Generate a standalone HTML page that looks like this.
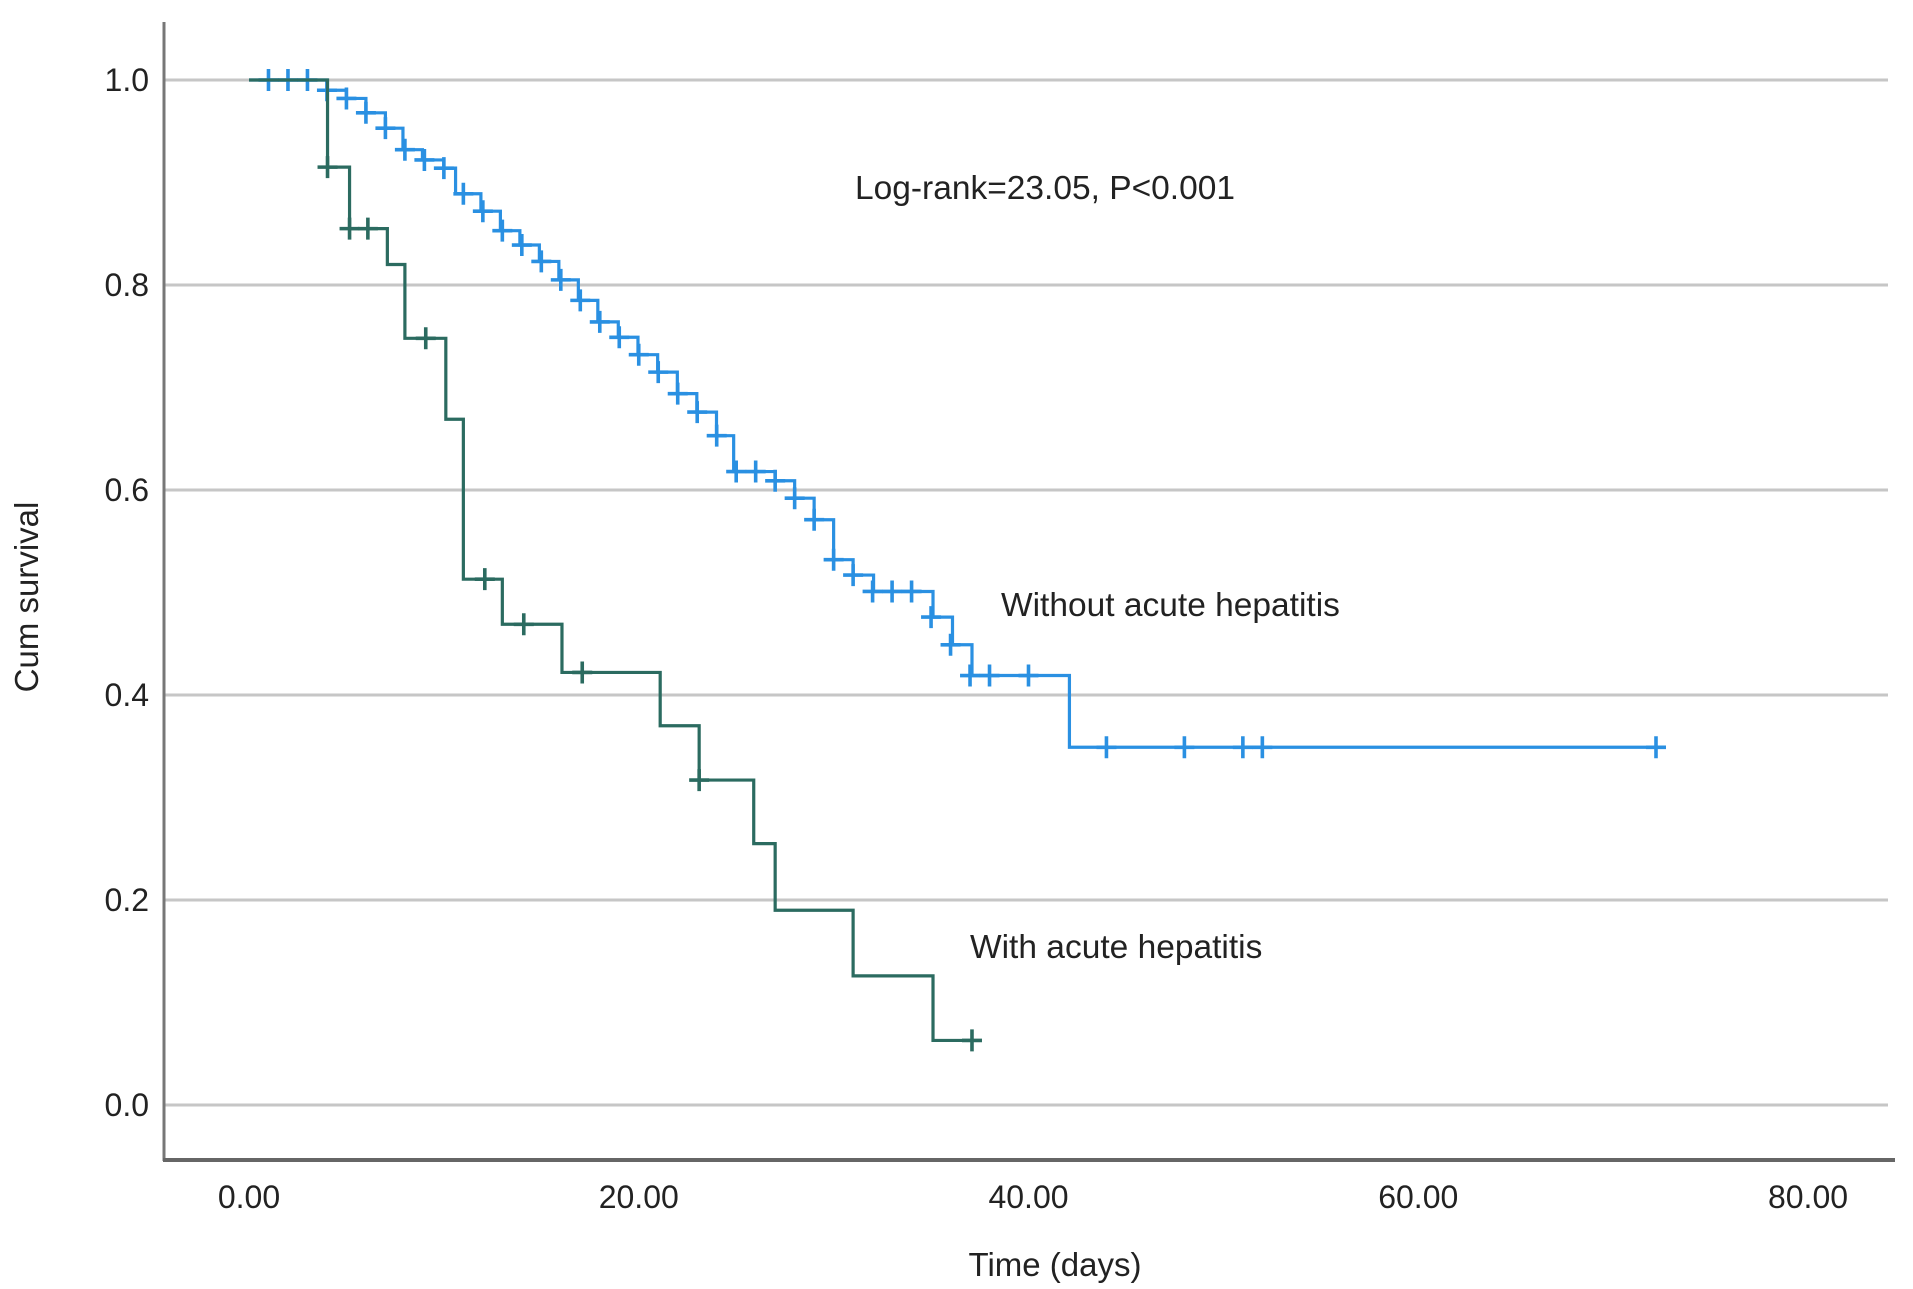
<!DOCTYPE html>
<html><head><meta charset="utf-8"><style>
html,body{margin:0;padding:0;background:#fff;}
svg{display:block;font-family:"Liberation Sans",sans-serif;}
</style></head><body>
<svg id="chart" width="1913" height="1289" viewBox="0 0 1913 1289" xmlns="http://www.w3.org/2000/svg">
<g id="grid"></g>
<g id="axes"></g>
<g id="series"></g>
<text x="855" y="199" font-size="33.5" fill="#222">Log-rank=23.05, P&lt;0.001</text>
<text x="1001" y="616" font-size="33.5" fill="#222">Without acute hepatitis</text>
<text x="970" y="958" font-size="33.5" fill="#222">With acute hepatitis</text>
<text x="1055" y="1276" font-size="33" fill="#222" text-anchor="middle">Time (days)</text>
<text transform="translate(38,597) rotate(-90)" font-size="33" fill="#222" text-anchor="middle">Cum survival</text>
</svg>
<script>
const xTicks=[0,20,40,60,80];
const xTickLabels=["0.00","20.00","40.00","60.00","80.00"];
const yTicks=[0,0.2,0.4,0.6,0.8,1.0];
const yTickLabels=["0.0","0.2","0.4","0.6","0.8","1.0"];
const blueStepTimes=[0,4,5,6,7,7.9,8.9,10,10.6,11.9,12.9,13.9,14.9,15.9,16.9,17.9,18.95,19.96,20.97,21.98,22.98,23.99,24.87,27,28,29,30,31,32.05,35.1,36.1,37.1,42.1];
const blueStepSurv=[1,0.99,0.982,0.968,0.953,0.932,0.922,0.914,0.889,0.872,0.853,0.839,0.823,0.805,0.785,0.764,0.749,0.732,0.715,0.694,0.676,0.653,0.618,0.609,0.592,0.571,0.532,0.517,0.501,0.476,0.449,0.419,0.349];
const blueEnd=72.2;
const blueCensor=[1,2,3,4,5,6,7,8,9,10,11,12,13,14,15,16,17,18,19,20,21,22,23,24,25,26,27,28,29,30,31,32,33,34,35,36,37,38,40,44,48,51,52,72.2];
const greenStepTimes=[0,4.03,5.16,7.1,8.0,10.1,11.0,13.0,16.06,21.1,23.1,25.9,27.0,31.0,35.1];
const greenStepSurv=[1,0.915,0.855,0.82,0.748,0.669,0.513,0.469,0.422,0.37,0.317,0.255,0.19,0.126,0.063];
const greenEnd=37.1;
const greenCensor=[4.03,5.16,6.1,9.07,12.1,14.1,17.1,23.1,37.1];

const X0=249, XPD=(1808-249)/80;
const Y0=1105, YPU=(1105-80);
const xs=t=>X0+t*XPD;
const ys=s=>Y0-s*YPU;
const NS="http://www.w3.org/2000/svg";
function mk(tag,attrs,parent){const e=document.createElementNS(NS,tag);for(const k in attrs)e.setAttribute(k,attrs[k]);parent.appendChild(e);return e;}
const grid=document.getElementById('grid'),axes=document.getElementById('axes'),series=document.getElementById('series');
yTicks.forEach((v,i)=>{
  const l=mk('line',{x1:164,x2:1888,y1:ys(v),y2:ys(v),stroke:'#c6c6c6','stroke-width':3},grid);
  
  
  const t=mk('text',{x:149,y:ys(v)+11,'font-size':32,fill:'#222','text-anchor':'end'},axes);
  t.textContent=yTickLabels[i];
  
  
});
xTicks.forEach((v,i)=>{
  const t=mk('text',{x:xs(v),y:1208,'font-size':32,fill:'#222','text-anchor':'middle'},axes);
  t.textContent=xTickLabels[i];
  
  
});
const ya=mk('line',{x1:164,x2:164,y1:22,y2:1161,stroke:'#777','stroke-width':3},axes);


const xa=mk('line',{x1:163,x2:1895,y1:1160,y2:1160,stroke:'#666','stroke-width':4},axes);



function survAt(times,surv,t){let s=surv[0];for(let i=0;i<times.length;i++){if(times[i]<=t+0.15)s=surv[i];}return s;}
function drawCurve(times,surv,end,censor,color,name){
  let d='M'+xs(times[0])+','+ys(surv[0]);
  for(let i=1;i<times.length;i++){d+=' H'+xs(times[i])+' V'+ys(surv[i]);}
  d+=' H'+xs(end);
  const p=mk('path',{d:d,fill:'none',stroke:color,'stroke-width':3.2},series);
  
  
  censor.forEach(t=>{
    const s=survAt(times,surv,t),cx=xs(t),cy=ys(s);
    const c=mk('path',{d:`M${cx-10},${cy} H${cx+10} M${cx},${cy-11} V${cy+11}`,stroke:color,'stroke-width':3.6,fill:'none'},series);
    
    
  });
}
drawCurve(blueStepTimes,blueStepSurv,blueEnd,blueCensor,'#2a90e2','without-hepatitis');
drawCurve(greenStepTimes,greenStepSurv,greenEnd,greenCensor,'#2b6b60','with-hepatitis');
</script>
</body></html>
